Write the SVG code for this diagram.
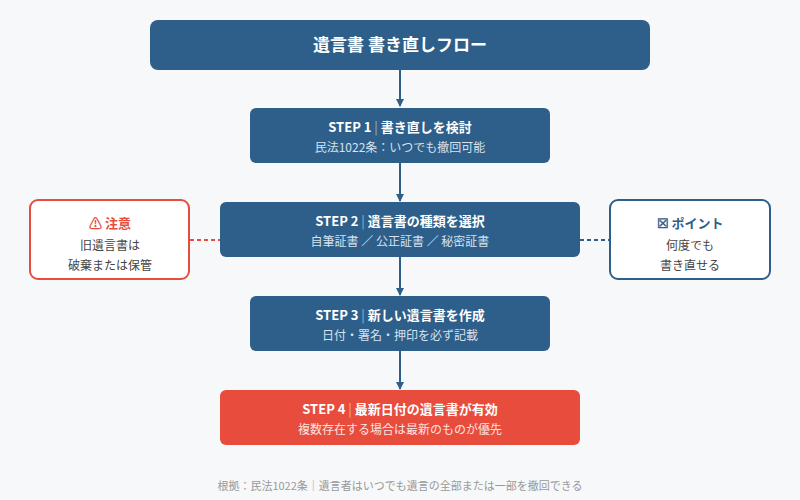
<svg xmlns="http://www.w3.org/2000/svg" width="800" height="500" viewBox="0 0 800 500">
<defs>
<style>
text{font-family:"Noto Sans CJK JP","Noto Sans",sans-serif;text-anchor:middle}
.t{fill:#fff;font-size:13px;font-weight:bold}
.s{fill:#d6e2ee;font-size:12px}
.sep{fill:#9fb6cc;font-weight:normal}
.step{fill:#2d5f8a}
.c{stroke:#2d5f8a;stroke-width:2}
</style>
<marker id="a" markerWidth="8" markerHeight="8" refX="7" refY="4" orient="auto" markerUnits="userSpaceOnUse"><path d="M0,0L8,4L0,8z" fill="#2d5f8a"/></marker>
</defs>
<rect width="800" height="500" fill="#f7f8fa"/>
<g id="connectors">
<line class="c" x1="400" y1="70" x2="400" y2="106" marker-end="url(#a)"/>
<line class="c" x1="400" y1="163" x2="400" y2="201" marker-end="url(#a)"/>
<line class="c" x1="400" y1="257" x2="400" y2="295" marker-end="url(#a)"/>
<line class="c" x1="400" y1="351" x2="400" y2="389" marker-end="url(#a)"/>
<line x1="190" y1="240" x2="220" y2="240" stroke="#e74c3c" stroke-width="2" stroke-dasharray="4,3"/>
<line x1="580" y1="240" x2="610" y2="240" stroke="#2d5f8a" stroke-width="2" stroke-dasharray="4,3"/>
</g>
<g id="title"><rect x="150" y="20" width="500" height="50" rx="8" class="step"/><text x="400" y="51" fill="#fff" font-size="17" font-weight="bold">遺言書 書き直しフロー</text></g>
<g id="step1"><rect x="250" y="108" width="300" height="55" rx="6" class="step"/><text x="400" y="132" class="t">STEP 1<tspan class="sep"> | </tspan>書き直しを検討</text><text x="400" y="152" class="s">民法1022条：いつでも撤回可能</text></g>
<g id="step2"><rect x="220" y="202" width="360" height="55" rx="6" class="step"/><text x="400" y="226" class="t">STEP 2<tspan class="sep"> | </tspan>遺言書の種類を選択</text><text x="400" y="246" class="s">自筆証書 ／ 公正証書 ／ 秘密証書</text></g>
<g id="step3"><rect x="250" y="296" width="300" height="55" rx="6" class="step"/><text x="400" y="320" class="t">STEP 3<tspan class="sep"> | </tspan>新しい遺言書を作成</text><text x="400" y="340" class="s">日付・署名・押印を必ず記載</text></g>
<g id="step4"><rect x="220" y="390" width="360" height="55" rx="6" fill="#e74c3c"/><text x="400" y="414" class="t">STEP 4<tspan fill="#f5b7b0" font-weight="normal"> | </tspan>最新日付の遺言書が有効</text><text x="400" y="434" fill="#fde3e0" font-size="12">複数存在する場合は最新のものが優先</text></g>
<g id="caution"><rect x="30" y="200" width="159" height="79" rx="8" fill="#fff" stroke="#e74c3c" stroke-width="2"/><text x="110" y="228" fill="#e74c3c" font-size="13" font-weight="bold">⚠ 注意</text><text x="110" y="250" fill="#444" font-size="12">旧遺言書は</text><text x="110" y="270" fill="#444" font-size="12">破棄または保管</text></g>
<g id="point"><rect x="610" y="200" width="160" height="79" rx="8" fill="#fff" stroke="#2d5f8a" stroke-width="2"/><text x="690" y="228" fill="#2d5f8a" font-size="13" font-weight="bold">☒ ポイント</text><text x="690" y="250" fill="#444" font-size="12">何度でも</text><text x="690" y="270" fill="#444" font-size="12">書き直せる</text></g>
<text x="400" y="490" fill="#999" font-size="11">根拠：民法1022条｜遺言者はいつでも遺言の全部または一部を撤回できる</text>
</svg>
